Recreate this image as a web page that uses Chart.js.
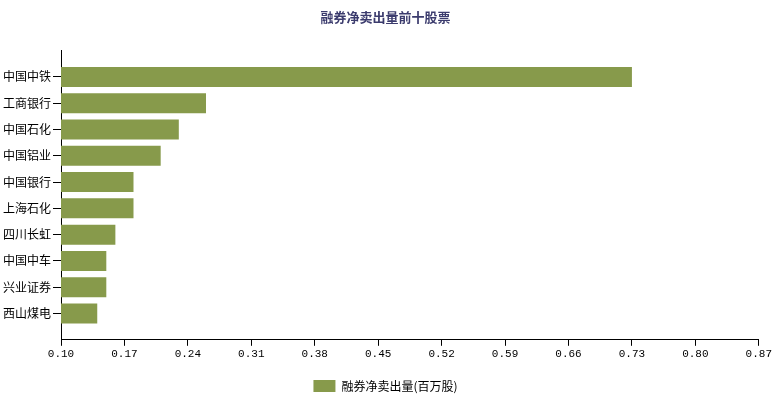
<!DOCTYPE html>
<html>
<head>
<meta charset="utf-8">
<script src="https://cdn.jsdelivr.net/npm/chart.js@4/dist/chart.umd.min.js"></script>
<style>
  html, body { margin: 0; padding: 0; background: #fff; }
  #wrap { width: 774px; height: 398px; }
</style>
</head>
<body>
<div id="wrap"><canvas id="shortChart"></canvas></div>
<script>
// 融券净卖出量前十股票
const categories = ['中国中铁', '工商银行', '中国石化', '中国铝业', '中国银行', '上海石化', '四川长虹', '中国中车', '兴业证券', '西山煤电'];
const netShortVolume = [0.73, 0.26, 0.23, 0.21, 0.18, 0.18, 0.16, 0.15, 0.15, 0.14];
const xTickValues = [0.10, 0.17, 0.24, 0.31, 0.38, 0.45, 0.52, 0.59, 0.66, 0.73, 0.80, 0.87];

const cjk = '"Noto Sans CJK SC", "Noto Sans", sans-serif';

const ctx = document.getElementById('shortChart').getContext('2d');
const shortChart = new Chart(ctx, {
  type: 'bar',
  data: {
    datasets: [{
      label: '融券净卖出量(百万股)',
      data: netShortVolume.map((v, i) => ({ x: v, y: i + 1 })),
      backgroundColor: '#879a4b',
      borderWidth: 0,
      categoryPercentage: 0.8,
      barPercentage: 0.95
    }]
  },
  options: {
    indexAxis: 'y',
    responsive: true,
    maintainAspectRatio: false,
    animation: false,
    layout: { padding: { left: 1, right: 4, top: 0, bottom: -4 } },
    plugins: {
      title: {
        display: true,
        text: '融券净卖出量前十股票',
        color: '#3b3b6d',
        font: { family: cjk, size: 13, weight: 'bold' },
        padding: { top: 9, bottom: 26 }
      },
      legend: {
        position: 'bottom',
        labels: {
          color: '#000',
          font: { family: cjk, size: 12 },
          boxWidth: 22,
          boxHeight: 12,
          padding: 17
        }
      },
      tooltip: { enabled: false }
    },
    scales: {
      x: {
        type: 'linear',
        min: 0.10,
        max: 0.87,
        afterBuildTicks: (scale) => { scale.ticks = xTickValues.map(v => ({ value: v })); },
        grid: { drawOnChartArea: false, drawTicks: true, tickLength: 6, color: '#000' },
        border: { color: '#000' },
        ticks: {
          color: '#000',
          font: { family: '"Liberation Mono", monospace', size: 11 },
          padding: 2,
          maxRotation: 0,
          autoSkip: false,
          callback: (v) => Number(v).toFixed(2)
        }
      },
      y: {
        type: 'linear',
        min: 0,
        max: categories.length + 1,
        reverse: true,
        offset: false,
        afterBuildTicks: (scale) => { scale.ticks = categories.map((c, i) => ({ value: i + 1 })); },
        grid: { offset: false, drawOnChartArea: false, drawTicks: true, tickLength: 8, color: '#000' },
        border: { color: '#000' },
        ticks: {
          color: '#000',
          font: { family: cjk, size: 12 },
          padding: 2,
          autoSkip: false,
          callback: (v) => categories[v - 1]
        }
      }
    }
  }
});
</script>
</body>
</html>
